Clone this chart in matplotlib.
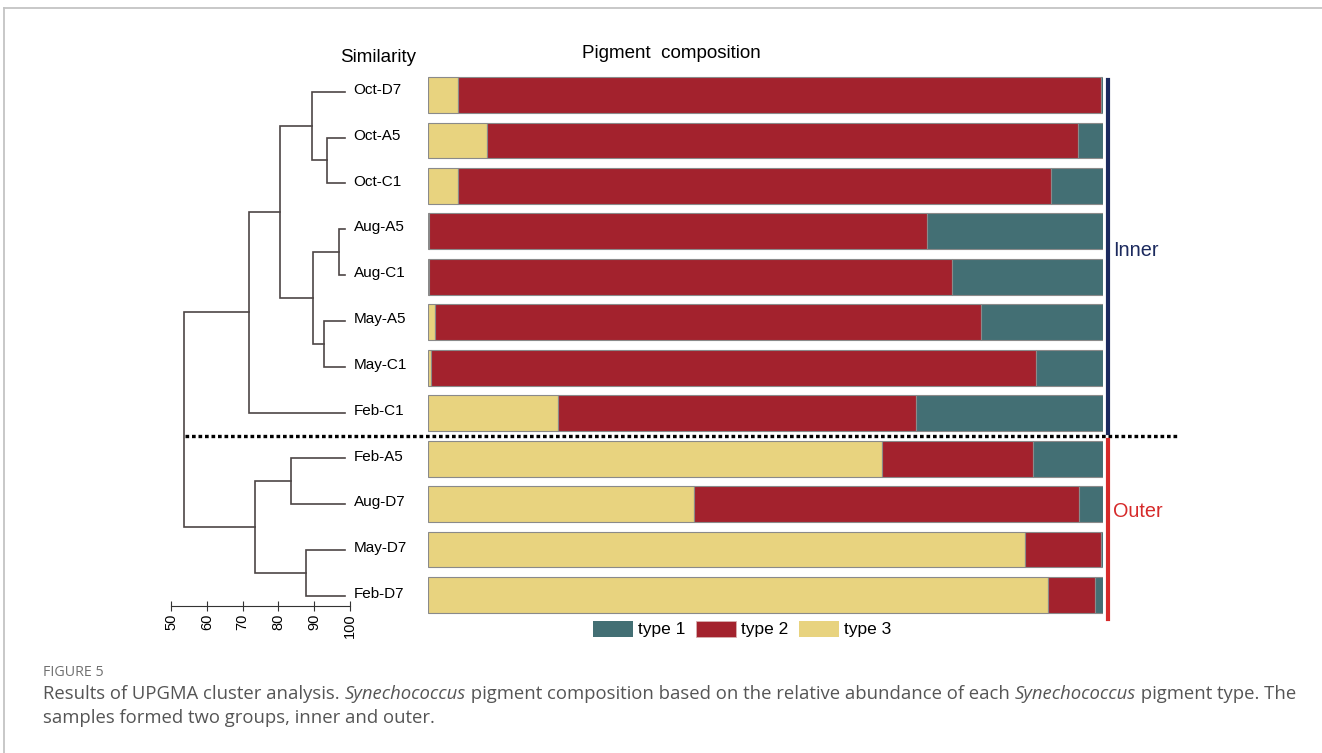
import numpy as np
import matplotlib
matplotlib.use("Agg")
import matplotlib.pyplot as plt
from matplotlib.patches import Patch

plt.rcParams['font.family'] = ['Liberation Sans', 'DejaVu Sans']

# samples, top to bottom (dendrogram leaf order)
samples = ['Oct-D7', 'Oct-A5', 'Oct-C1', 'Aug-A5', 'Aug-C1', 'May-A5',
           'May-C1', 'Feb-C1', 'Feb-A5', 'Aug-D7', 'May-D7', 'Feb-D7']

# relative abundance (%) of each pigment type
type3 = [4.4, 8.7, 4.4, 0.2, 0.2, 1.1, 0.4, 19.2, 67.3, 39.4, 88.5, 91.9]
type2 = [95.4, 87.7, 88.0, 73.7, 77.4, 80.8, 89.7, 53.2, 22.3, 57.1, 11.3, 7.0]
type1 = [0.2, 3.6, 7.6, 26.1, 22.4, 18.1, 9.9, 27.6, 10.4, 3.5, 0.2, 1.1]

# UPGMA merges: (child a, child b, similarity); new nodes numbered from 12
merges = [
    (1, 2, 93.5),
    (0, 12, 89.3),
    (3, 4, 96.9),
    (5, 6, 92.7),
    (14, 15, 89.6),
    (13, 16, 80.4),
    (17, 7, 71.8),
    (8, 9, 83.4),
    (10, 11, 87.7),
    (19, 20, 73.5),
    (18, 21, 53.7),
]

sim_ticks = [50, 60, 70, 80, 90, 100]

c1, c2, c3 = '#436f74', '#a3222d', '#e8d37f'
inner_col, outer_col = '#1c2a5e', '#d62a2a'
W, H = 1322, 753

fig = plt.figure(figsize=(W / 100, H / 100), dpi=100)

# frame around the figure panel
fig.add_artist(plt.Line2D([3.5 / W, 1], [1 - 8 / H, 1 - 8 / H], color='#c4c4c4', lw=1.3))
fig.add_artist(plt.Line2D([3.5 / W, 3.5 / W], [0, 1 - 8 / H], color='#c4c4c4', lw=1.3))

ax_top, ax_bot = 72.3, 617.7
ax = fig.add_axes([428 / W, 1 - ax_bot / H, 674.7 / W, (ax_bot - ax_top) / H])
d_top, d_bot = 68.8, 618.9
ax_den = fig.add_axes([171 / W, 1 - d_bot / H, 179 / W, (d_bot - d_top) / H])

# stacked bars
y = np.arange(len(samples))
t3 = np.array(type3)
t2 = np.array(type2)
t1 = np.array(type1)
kw = dict(height=0.79, edgecolor='#8a8a8a', linewidth=0.8)
ax.barh(y, t3, left=0, color=c3, **kw)
ax.barh(y, t2, left=t3, color=c2, **kw)
ax.barh(y, t1, left=t3 + t2, color=c1, **kw)
ax.set_xlim(0, 100)
ax.set_ylim(len(samples) - 0.5, -0.5)
ax.axis('off')

# group separator and brackets
ax.axhline(7.5, xmin=-0.36, xmax=1.1116, color='black', lw=2.4,
           linestyle=(0, (1.1, 0.85)), clip_on=False)
yt = ax.get_yaxis_transform()
ax.plot([1.0078, 1.0078], [-0.33, 7.44], color=inner_col, lw=3, transform=yt, clip_on=False)
ax.plot([1.0078, 1.0078], [7.59, 11.53], color=outer_col, lw=3, transform=yt, clip_on=False)
ax.text(1.0152, 3.41, 'Inner', color=inner_col, fontsize=14.3, va='center', ha='left',
        transform=yt)
ax.text(1.0152, 9.17, 'Outer', color=outer_col, fontsize=14.3, va='center', ha='left',
        transform=yt)

# dendrogram
pos = {i: (100 - 1.3, float(i)) for i in range(len(samples))}
node = len(samples)
for a, b, s in merges:
    xa, ya = pos[a]
    xb, yb = pos[b]
    ax_den.plot([xa, s, s, xb], [ya, ya, yb, yb], color='#4d4545', lw=1.2,
                solid_joinstyle='miter')
    pos[node] = (s, (ya + yb) / 2)
    node += 1
for i, name in enumerate(samples):
    ax_den.text(101, i - 0.04, name, fontsize=11, va='center', ha='left', clip_on=False)
ax_den.set_xlim(50, 100)
ax_den.set_ylim(len(samples) - 0.5, -0.5)
ax_den.axis('off')

# similarity scale
ax_s = fig.add_axes([171 / W, 1 - 606 / H, 179 / W, 0.0001])
ax_s.set_xlim(50, 100)
ax_s.set_xticks(sim_ticks)
ax_s.set_xticklabels([str(t) for t in sim_ticks], rotation=90, fontsize=10.5)
ax_s.set_yticks([])
for sp in ['top', 'left', 'right']:
    ax_s.spines[sp].set_visible(False)
ax_s.spines['bottom'].set_color('#333333')
ax_s.tick_params(axis='x', direction='inout', length=7, color='#333333', pad=2)

fig.text(378 / W, 1 - 57 / H, 'Similarity', fontsize=13.5, ha='center', va='center')
fig.text(671 / W, 1 - 53 / H, 'Pigment  composition', fontsize=13.5, ha='center', va='center')

handles = [Patch(facecolor=c1, edgecolor='none'),
           Patch(facecolor=c2, edgecolor='#d8b0b0', linewidth=0.6),
           Patch(facecolor=c3, edgecolor='none')]
fig.legend(handles, ['type 1', 'type 2', 'type 3'], ncol=3, loc='center',
           bbox_to_anchor=(742 / W, 1 - 629 / H), frameon=False, fontsize=12.5,
           handlelength=2.3, handleheight=1.05, handletextpad=0.3,
           columnspacing=0.6, borderpad=0)

# caption
cap = dict(family=['Open Sans', 'DejaVu Sans'], color='#555555', fontsize=13.3,
           va='center', ha='left')
fig.text(43 / W, 1 - 672 / H, 'FIGURE 5', fontsize=10.3, color='#707070',
         family=['Open Sans', 'DejaVu Sans'], va='center', ha='left')

renderer = fig.canvas.get_renderer()


def caption_line(ypix, runs):
    x = 43 / W
    for s, style in runs:
        t = fig.text(x, 1 - ypix / H, s, style=style, **cap)
        x += t.get_window_extent(renderer=renderer).width / W


caption_line(694, [('Results of UPGMA cluster analysis. ', 'normal'),
                   ('Synechococcus', 'italic'),
                   (' pigment composition based on the relative abundance of each ', 'normal'),
                   ('Synechococcus', 'italic'),
                   (' pigment type. The', 'normal')])
caption_line(718, [('samples formed two groups, inner and outer.', 'normal')])

fig.savefig('out.png', dpi=100)
